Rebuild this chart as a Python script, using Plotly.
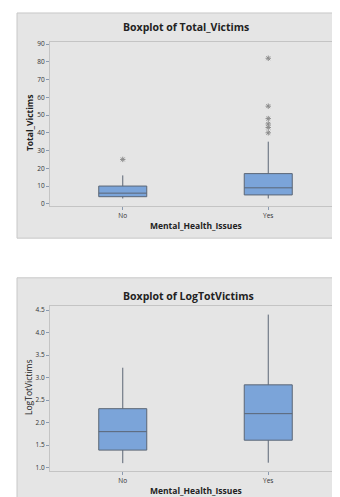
import plotly.graph_objects as go

# ---- data ----
categories = ["No", "Yes"]

total_lower = [3, 3]
total_q1 = [4, 5]
total_median = [6, 9]
total_q3 = [10, 17]
total_upper = [16, 35]
total_out_no = [25]
total_out_yes = [40, 43, 45, 48, 55, 82]

log_lower = [1.10, 1.11]
log_q1 = [1.39, 1.61]
log_median = [1.80, 2.20]
log_q3 = [2.31, 2.84]
log_upper = [3.22, 4.40]

W, H = 340, 497
FONT = "Open Sans"
BOX_FILL = "#7ba4d9"
BOX_LINE = "#5b6675"
PANEL = "#e5e5e5"


def px_x(x):
    return x / W


def px_y(y):
    return 1 - y / H


fig = go.Figure()

# top boxplot
fig.add_trace(go.Box(
    x=categories, q1=total_q1, median=total_median, q3=total_q3,
    lowerfence=total_lower, upperfence=total_upper,
    fillcolor=BOX_FILL, line=dict(color=BOX_LINE, width=1),
    whiskerwidth=0, width=0.33, boxpoints=False,
    xaxis="x", yaxis="y", showlegend=False, hoverinfo="skip"))
fig.add_trace(go.Scatter(
    x=["No"] * len(total_out_no) + ["Yes"] * len(total_out_yes),
    y=total_out_no + total_out_yes, mode="markers",
    marker=dict(symbol="asterisk-open", size=4.5, color="#8c8c8c",
                line=dict(color="#8c8c8c", width=1)),
    xaxis="x", yaxis="y", showlegend=False, hoverinfo="skip"))

# bottom boxplot
fig.add_trace(go.Box(
    x=categories, q1=log_q1, median=log_median, q3=log_q3,
    lowerfence=log_lower, upperfence=log_upper,
    fillcolor=BOX_FILL, line=dict(color=BOX_LINE, width=1),
    whiskerwidth=0, width=0.33, boxpoints=False,
    xaxis="x2", yaxis="y2", showlegend=False, hoverinfo="skip"))

axis_common = dict(
    showgrid=False, zeroline=False, showline=True, linecolor="#c4c4c4",
    linewidth=1, mirror=True, ticks="outside", ticklen=3, tickcolor="#8a9ab0",
    tickfont=dict(family=FONT, size=6.5, color="#333333"),
)

fig.update_layout(
    width=W, height=H,
    margin=dict(l=0, r=0, t=0, b=0),
    paper_bgcolor="white", plot_bgcolor="white",
    font=dict(family=FONT),
    xaxis=dict(domain=[px_x(42), px_x(333)], anchor="y", type="category",
               categoryorder="array", categoryarray=categories,
               range=[-0.5, 1.5], **axis_common),
    yaxis=dict(domain=[px_y(197.7), px_y(32)], anchor="x",
               range=[-1.3, 91.3], tick0=0, dtick=10, **axis_common),
    xaxis2=dict(domain=[px_x(42), px_x(333)], anchor="y2", type="category",
                categoryorder="array", categoryarray=categories,
                range=[-0.5, 1.5], **axis_common),
    yaxis2=dict(domain=[px_y(465), px_y(298)], anchor="x2",
                range=[0.92, 4.6], tick0=1, dtick=0.5, tickformat=".1f",
                **axis_common),
    shapes=[
        dict(type="rect", xref="paper", yref="paper", layer="below",
             x0=px_x(9), x1=px_x(339), y0=px_y(230), y1=px_y(3),
             fillcolor=PANEL, line=dict(color="#c8c8c8", width=1)),
        dict(type="rect", xref="paper", yref="paper", layer="below",
             x0=px_x(9), x1=px_x(341), y0=px_y(499), y1=px_y(270),
             fillcolor=PANEL, line=dict(color="#c8c8c8", width=1)),
    ],
)

ann = []
title_font = dict(family=FONT, size=10.5, color="#222222")
label_font = dict(family=FONT, size=8.5, color="#222222")
ann.append(dict(text="<b>Boxplot of Total_Victims</b>", x=px_x(178), y=px_y(17),
                xref="paper", yref="paper", showarrow=False, font=title_font,
                xanchor="center", yanchor="middle"))
ann.append(dict(text="<b>Boxplot of LogTotVictims</b>", x=px_x(180), y=px_y(288),
                xref="paper", yref="paper", showarrow=False, font=title_font,
                xanchor="center", yanchor="middle"))
ann.append(dict(text="<b>Mental_Health_Issues</b>", x=px_x(188), y=px_y(217),
                xref="paper", yref="paper", showarrow=False, font=label_font,
                xanchor="center", yanchor="middle"))
ann.append(dict(text="<b>Mental_Health_Issues</b>", x=px_x(188), y=px_y(484),
                xref="paper", yref="paper", showarrow=False, font=label_font,
                xanchor="center", yanchor="middle"))
ann.append(dict(text="<b>Total_Victims</b>", x=px_x(21), y=px_y(114),
                xref="paper", yref="paper", showarrow=False, font=label_font,
                textangle=-90, xanchor="center", yanchor="middle"))
ann.append(dict(text="LogTotVictims", x=px_x(21), y=px_y(381),
                xref="paper", yref="paper", showarrow=False, font=label_font,
                textangle=-90, xanchor="center", yanchor="middle"))
fig.update_layout(annotations=ann)

fig.write_html("out.html")
